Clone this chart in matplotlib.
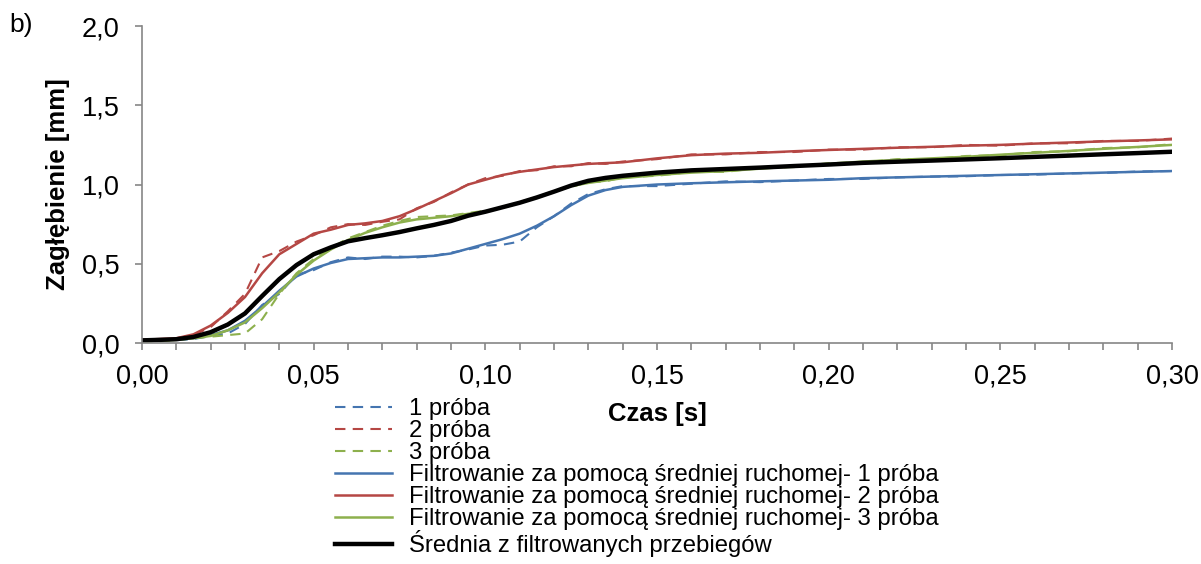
import numpy as np
import matplotlib
matplotlib.use('Agg')
import matplotlib.pyplot as plt
from matplotlib.ticker import MultipleLocator, FuncFormatter

plt.rcParams['font.family'] = ['Liberation Sans', 'DejaVu Sans']

# czas [s]
czas = [0.000, 0.005, 0.010, 0.015, 0.020, 0.025, 0.030, 0.035, 0.040, 0.045,
        0.050, 0.055, 0.060, 0.065, 0.070, 0.075, 0.080, 0.085, 0.090, 0.095,
        0.100, 0.105, 0.110, 0.115, 0.120, 0.125, 0.130, 0.135, 0.140,
        0.150, 0.160, 0.170, 0.180, 0.190, 0.200, 0.210, 0.220, 0.230, 0.240,
        0.250, 0.260, 0.270, 0.280, 0.290, 0.300]

# surowe przebiegi [mm]
proba1 = [0.015, 0.020, 0.018, 0.025, 0.045, 0.060, 0.120, 0.240, 0.310, 0.430,
          0.460, 0.510, 0.540, 0.530, 0.545, 0.545, 0.540, 0.550, 0.570, 0.590,
          0.615, 0.620, 0.640, 0.730, 0.800, 0.880, 0.940, 0.970, 0.990,
          0.990, 1.005, 1.020, 1.015, 1.025, 1.035, 1.035, 1.045, 1.050, 1.052,
          1.060, 1.062, 1.070, 1.073, 1.082, 1.085]
proba2 = [0.020, 0.020, 0.030, 0.050, 0.100, 0.200, 0.310, 0.540, 0.580, 0.640,
          0.680, 0.730, 0.750, 0.745, 0.765, 0.780, 0.850, 0.890, 0.950, 1.000,
          1.040, 1.055, 1.085, 1.090, 1.115, 1.115, 1.135, 1.130, 1.145,
          1.160, 1.190, 1.190, 1.205, 1.205, 1.220, 1.220, 1.235, 1.235, 1.250,
          1.245, 1.260, 1.260, 1.275, 1.275, 1.290]
proba3 = [0.010, 0.010, 0.020, 0.030, 0.040, 0.050, 0.060, 0.150, 0.310, 0.440,
          0.530, 0.600, 0.660, 0.700, 0.740, 0.770, 0.795, 0.800, 0.805, 0.820,
          0.835, 0.850, 0.890, 0.920, 0.960, 0.985, 1.015, 1.020, 1.045,
          1.055, 1.080, 1.080, 1.105, 1.110, 1.135, 1.140, 1.160, 1.160, 1.180,
          1.185, 1.205, 1.210, 1.230, 1.235, 1.255]

# przebiegi po filtracji srednia ruchoma [mm]
filtr1 = [0.020, 0.020, 0.022, 0.030, 0.050, 0.080, 0.140, 0.230, 0.330, 0.420,
          0.470, 0.505, 0.530, 0.535, 0.540, 0.540, 0.545, 0.550, 0.565, 0.595,
          0.625, 0.655, 0.690, 0.740, 0.800, 0.870, 0.930, 0.965, 0.985,
          1.000, 1.008, 1.014, 1.020, 1.025, 1.030, 1.040, 1.045, 1.050, 1.055,
          1.060, 1.065, 1.070, 1.075, 1.080, 1.085]
filtr2 = [0.020, 0.025, 0.030, 0.055, 0.110, 0.190, 0.290, 0.440, 0.560, 0.625,
          0.690, 0.715, 0.745, 0.755, 0.770, 0.800, 0.845, 0.895, 0.945, 1.000,
          1.030, 1.060, 1.080, 1.095, 1.110, 1.120, 1.130, 1.135, 1.140,
          1.165, 1.185, 1.195, 1.200, 1.210, 1.218, 1.225, 1.232, 1.238, 1.245,
          1.250, 1.258, 1.265, 1.272, 1.278, 1.285]
filtr3 = [0.010, 0.015, 0.020, 0.030, 0.045, 0.080, 0.130, 0.220, 0.320, 0.430,
          0.520, 0.590, 0.650, 0.695, 0.730, 0.760, 0.780, 0.790, 0.800, 0.815,
          0.830, 0.855, 0.885, 0.920, 0.955, 0.990, 1.010, 1.025, 1.040,
          1.060, 1.075, 1.085, 1.100, 1.115, 1.130, 1.145, 1.155, 1.165, 1.175,
          1.188, 1.200, 1.212, 1.225, 1.237, 1.250]

srednia = np.mean([filtr1, filtr2, filtr3], axis=0)

etykiety = ['1 próba', '2 próba', '3 próba',
            'Filtrowanie za pomocą średniej ruchomej- 1 próba',
            'Filtrowanie za pomocą średniej ruchomej- 2 próba',
            'Filtrowanie za pomocą średniej ruchomej- 3 próba',
            'Średnia z filtrowanych przebiegów']

niebieski = '#4575B0'
czerwony = '#B54744'
zielony = '#8DB04D'
szary = '#868686'

fig = plt.figure(figsize=(12.01, 5.64), dpi=100)
ax = fig.add_axes([0.1182, 0.3918, 0.8577, 0.5621])

for y, c, lab in zip([proba1, proba2, proba3], [niebieski, czerwony, zielony], etykiety[:3]):
    ax.plot(czas, y, color=c, lw=1.5, dashes=(5, 3.5), label=lab)
for y, c, lab in zip([filtr1, filtr2, filtr3], [niebieski, czerwony, zielony], etykiety[3:6]):
    ax.plot(czas, y, color=c, lw=1.8, label=lab)
ax.plot(czas, srednia, color='black', lw=3.2, label=etykiety[6])

ax.set_xlim(0, 0.30)
ax.set_ylim(0, 2.0)
ax.xaxis.set_major_locator(MultipleLocator(0.05))
ax.xaxis.set_minor_locator(MultipleLocator(0.01))
ax.yaxis.set_major_locator(MultipleLocator(0.5))
ax.xaxis.set_major_formatter(FuncFormatter(lambda v, p: f'{v:.2f}'.replace('.', ',')))
ax.yaxis.set_major_formatter(FuncFormatter(lambda v, p: f'{v:.1f}'.replace('.', ',')))

for s in ['top', 'right']:
    ax.spines[s].set_visible(False)
for s in ['left', 'bottom']:
    ax.spines[s].set_color(szary)
    ax.spines[s].set_linewidth(1.2)
ax.tick_params(axis='both', which='both', direction='out', color=szary,
               width=1.2, length=5, labelsize=19.5)
ax.tick_params(axis='x', pad=10)
ax.tick_params(axis='y', pad=11)

ax.set_xlabel('Czas [s]', fontsize=18.5, fontweight='bold')
ax.xaxis.set_label_coords(0.5, -0.185)
ax.set_ylabel('Zagłębienie [mm]', fontsize=18.5, fontweight='bold')
ax.yaxis.set_label_coords(-0.07, 0.5)

fig.text(0.008, 1 - 25 / 564, 'b)', fontsize=19, va='center')

# legenda pod osia X, ostatni wiersz przy samej krawedzi
fig.legend(loc='upper left', bbox_to_anchor=(0.279, 0.2945), frameon=False,
           fontsize=17.2, handlelength=2.4, handletextpad=0.7,
           labelspacing=0.0, borderpad=0, borderaxespad=0)

fig.savefig('out.png', dpi=100)
